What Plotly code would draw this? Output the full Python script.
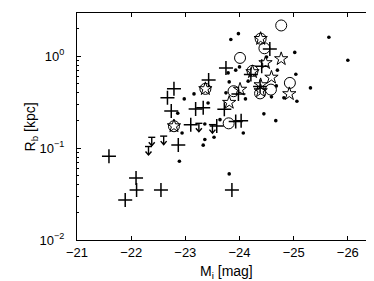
import plotly.graph_objects as go

# --- data (M_i [mag], R_b [kpc]) ---
dot_x = [-23.98, -23.84, -25.65, -26.00, -25.02, -24.50, -24.70, -23.79, -23.93, -24.00,
         -25.04, -23.81, -24.16, -23.75, -24.68, -25.31, -24.82, -25.06, -24.59, -24.11,
         -23.16, -22.98, -23.42, -22.86, -24.45, -24.67, -24.07, -23.64, -23.36, -22.94,
         -23.36, -23.33, -23.53, -22.89, -23.81]
dot_y = [1.76, 1.52, 1.61, 0.905, 1.10, 0.98, 0.705, 0.658, 0.705, 0.765,
         0.637, 0.525, 0.535, 0.399, 0.475, 0.452, 0.352, 0.324, 0.361, 0.343,
         0.389, 0.343, 0.310, 0.239, 0.236, 0.199, 0.146, 0.204, 0.183, 0.146,
         0.124, 0.1076, 0.131, 0.072, 0.0524]

cross_x = [-21.59, -22.09, -22.10, -21.89, -22.55, -22.87, -22.79, -22.67, -22.74, -23.19,
           -23.33, -23.72, -23.43, -23.75, -24.21, -24.41, -24.56, -24.38, -23.98, -23.10,
           -23.58, -23.93, -24.03, -23.86]
cross_y = [0.0816, 0.0474, 0.0351, 0.0273, 0.0351, 0.1083, 0.441, 0.352, 0.254, 0.267,
           0.274, 0.265, 0.552, 0.746, 0.631, 0.778, 1.20, 0.469, 0.389, 0.180,
           0.174, 0.195, 0.198, 0.0351]

star_x = [-24.77, -24.48, -24.59, -24.39, -24.01, -24.92, -23.81, -24.39, -22.79, -24.24,
          -23.37, -24.39]
star_y = [0.935, 0.846, 0.588, 0.487, 0.435, 0.389, 0.313, 1.55, 0.174, 0.675,
          0.441, 0.419]

circ_x = [-24.77, -24.39, -24.46, -24.01, -24.24, -23.37, -23.89, -24.58, -24.93, -24.38,
          -22.79, -23.80]
circ_y = [2.16, 1.55, 1.22, 0.958, 0.692, 0.441, 0.416, 0.433, 0.512, 0.394,
          0.173, 0.186]

lim_x = [-22.38, -22.60, -22.32, -23.25, -23.50]
lim_y = [0.131, 0.135, 0.104, 0.186, 0.180]

x_ticks = [-21, -22, -23, -24, -25, -26]
x_ticktext = ["\u221221", "\u221222", "\u221223", "\u221224", "\u221225", "\u221226"]
y_ticks = [0.01, 0.1, 1]
y_ticktext = ["10<sup>\u22122</sup>", "10<sup>\u22121</sup>", "10<sup>0</sup>"]
x_title = "M<sub>i</sub> [mag]"
y_title = "R<sub>b</sub> [kpc]"

# --- upper-limit symbols built from the data ---
hw, aw = 0.065, 0.055          # half widths in mag
L, ah = 0.092, 0.038           # stem length / head height in decades
ux, uy = [], []
for x, y in zip(lim_x, lim_y):
    tip = y * 10 ** (-L)
    side = y * 10 ** (-L + ah)
    ux += [x - hw, x + hw, None, x, x, None, x - aw, x, x + aw, None]
    uy += [y, y, None, y, tip, None, side, tip, side, None]

fig = go.Figure()
fig.add_trace(go.Scatter(x=dot_x, y=dot_y, mode="markers",
                         marker=dict(symbol="circle", size=3.6, color="black", line=dict(width=0))))
fig.add_trace(go.Scatter(x=circ_x, y=circ_y, mode="markers",
                         marker=dict(symbol="circle-open", size=11, color="black", line=dict(width=1))))
fig.add_trace(go.Scatter(x=star_x, y=star_y, mode="markers",
                         marker=dict(symbol="star-open", size=10, color="black", line=dict(width=1))))
fig.add_trace(go.Scatter(x=cross_x, y=cross_y, mode="markers",
                         marker=dict(symbol="cross-thin-open", size=10, color="black", line=dict(width=1.5, color="black"))))
fig.add_trace(go.Scatter(x=ux, y=uy, mode="lines", line=dict(color="black", width=1.4)))

tick_font = dict(family="Liberation Sans, Arial, sans-serif", size=13, color="black")
title_font = dict(family="Liberation Sans, Arial, sans-serif", size=14, color="black")
minor_vals = [m * 10 ** e for e in (-2, -1, 0) for m in range(2, 10) if m * 10 ** e < 3]

fig.update_layout(
    width=374, height=281,
    margin=dict(l=69, r=6, t=5, b=49),
    paper_bgcolor="white", plot_bgcolor="white",
    showlegend=False, font=tick_font,
    xaxis=dict(range=[-21, -26.52], tickvals=x_ticks, ticktext=x_ticktext, automargin=False,
               showgrid=False, zeroline=False, showline=True, linecolor="black", linewidth=1,
               mirror="ticks", ticks="inside", ticklen=4, tickcolor="black", tickfont=tick_font),
    yaxis=dict(type="log", range=[-2, 0.47], tickvals=y_ticks, ticktext=y_ticktext, automargin=False,
               showgrid=False, zeroline=False, showline=True, linecolor="black", linewidth=1,
               mirror="ticks", ticks="inside", ticklen=4, tickcolor="black", tickfont=tick_font,
               ticklabelstandoff=9,
               minor=dict(tickvals=minor_vals, ticks="inside", ticklen=2, tickcolor="black", showgrid=False)),
    annotations=[
        dict(text=x_title, xref="paper", yref="paper", x=0.5, y=-0.141,
             xanchor="center", yanchor="middle", showarrow=False, font=title_font),
        dict(text=y_title, xref="paper", yref="paper", x=-0.154, y=0.5, textangle=-90,
             xanchor="center", yanchor="middle", showarrow=False, font=title_font),
    ],
)

fig.write_html("out.html")
